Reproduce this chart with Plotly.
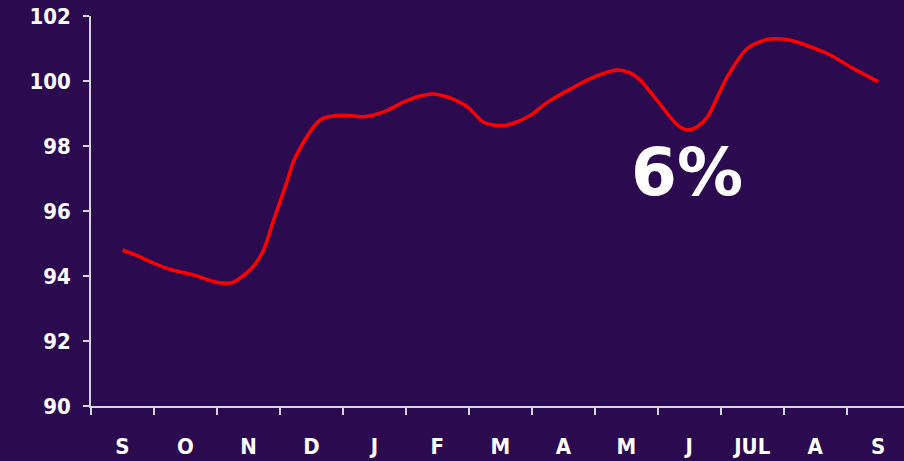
import plotly.graph_objects as go

# Month labels (category positions 0..12)
months = ["S", "O", "N", "D", "J", "F", "M", "A", "M", "J", "JUL", "A", "S"]

# Series: position in month units and index value
t_pos = [0.00, 0.24, 0.49, 0.76, 1.13, 1.51, 1.75, 1.87, 2.08, 2.24, 2.40, 2.62,
         2.71, 2.87, 3.02, 3.14, 3.27, 3.51, 3.83, 3.98, 4.21, 4.46, 4.73, 4.94,
         5.10, 5.21, 5.48, 5.73, 6.00, 6.21, 6.48, 6.75, 7.11, 7.48, 7.86, 8.06,
         8.22, 8.49, 8.81, 8.97, 9.13, 9.29, 9.60, 9.92, 10.24, 10.49, 10.71,
         11.24, 11.56, 11.83, 12.00]
values = [94.80, 94.62, 94.40, 94.20, 94.03, 93.80, 93.80, 93.94, 94.30, 94.80,
          95.72, 96.95, 97.50, 98.10, 98.55, 98.80, 98.90, 98.95, 98.90, 98.95,
          99.10, 99.35, 99.54, 99.60, 99.54, 99.47, 99.20, 98.74, 98.62, 98.70,
          98.95, 99.35, 99.75, 100.12, 100.34, 100.25, 100.03, 99.40, 98.65,
          98.49, 98.60, 98.90, 100.12, 101.00, 101.28, 101.29, 101.20, 100.80,
          100.43, 100.15, 99.98]

y_ticks = [90, 92, 94, 96, 98, 100, 102]
annotation_text = "6%"

BG = "#2B0A4F"
AXIS = "#D8D4E0"
tick_font = dict(family="DejaVu Sans Condensed, sans-serif",
                 size=22, color="white", weight="bold")

fig = go.Figure()
fig.add_trace(go.Scatter(
    x=t_pos, y=values, mode="lines",
    line=dict(color="#FF0000", width=3.5, shape="spline", smoothing=0.8),
    hoverinfo="skip", showlegend=False,
))

fig.add_annotation(
    x=8.97, y=97.2, xref="x", yref="y", text=annotation_text, showarrow=False,
    font=dict(family="DejaVu Sans", size=66, color="white", weight="bold"),
    xanchor="center", yanchor="middle",
)

fig.update_layout(
    width=904, height=461,
    margin=dict(l=91, r=0, t=16, b=55),
    paper_bgcolor=BG, plot_bgcolor=BG,
    xaxis=dict(
        range=[-0.5, 12.41],
        tickmode="array", tickvals=list(range(len(months))), ticktext=months,
        ticks="", showgrid=False, zeroline=False,
        showline=True, linecolor=AXIS, linewidth=1.5,
        tickfont=tick_font, ticklabelstandoff=20,
        minor=dict(tickmode="array",
                   tickvals=[i - 0.5 for i in range(len(months))],
                   ticks="outside", ticklen=7, tickcolor=AXIS, tickwidth=1.5,
                   showgrid=False),
    ),
    yaxis=dict(
        range=[90, 102], tickmode="array", tickvals=y_ticks,
        ticks="outside", ticklen=6, tickcolor=AXIS, tickwidth=1.5,
        showgrid=False, zeroline=False,
        showline=True, linecolor=AXIS, linewidth=1.5,
        tickfont=tick_font, ticklabelstandoff=8,
    ),
)

fig.write_html("out.html",
               config={"displayModeBar": False},
               post_script="document.body.style.margin='0px';"
                           "document.body.style.background='" + BG + "';")
